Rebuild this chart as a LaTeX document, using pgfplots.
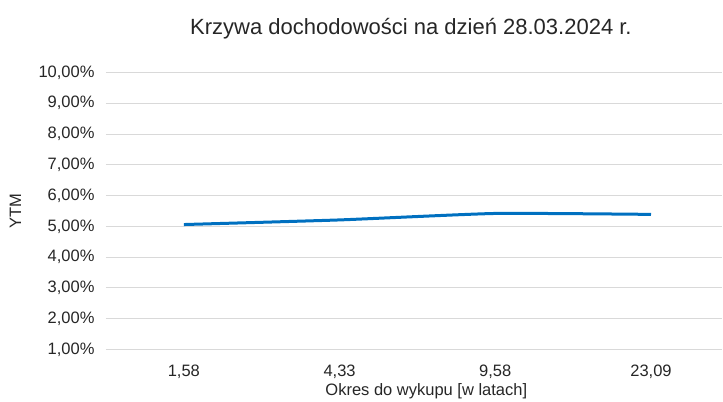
\documentclass[border=0pt]{standalone}
\usepackage{pgfplots}
\pgfplotsset{compat=1.18}
\usepackage{fontspec}
\setmainfont{Liberation Sans}
\definecolor{lineblue}{HTML}{0070C0}
\definecolor{gridgray}{HTML}{D9D9D9}
\definecolor{txt}{HTML}{262626}
\begin{document}
\begin{tikzpicture}
\begin{axis}[
  name=ax,
  scale only axis,
  width=616bp, height=277bp,
  xmin=-0.5, xmax=3.456,
  ymin=1, ymax=10,
  xtick={0,1,2,3},
  xticklabels={{1,58},{4,33},{9,58},{23,09}},
  ytick={1,2,...,10},
  yticklabels={{1,00\%},{2,00\%},{3,00\%},{4,00\%},{5,00\%},{6,00\%},{7,00\%},{8,00\%},{9,00\%},{10,00\%}},
  axis line style={draw=none},
  major tick length=0pt,
  ymajorgrids,
  grid style={gridgray, line width=1bp},
  tick label style={font=\fontsize{16.5bp}{18bp}\selectfont, text=txt},
  yticklabel style={anchor=east, xshift=-8bp},
  xticklabel style={anchor=base, yshift=-27bp},
  xlabel={Okres do wykupu [w latach]},
  ylabel={YTM},
  label style={font=\fontsize{16.5bp}{18bp}\selectfont, text=txt},
  xlabel style={at={(axis description cs:0.52,0)}, anchor=base, yshift=-46bp},
  ylabel style={at={(axis description cs:-0.147,0.5)}, anchor=center, rotate=0},
  title={Krzywa dochodowości na dzień 28.03.2024 r.},
  title style={font=\fontsize{22bp}{24bp}\selectfont, text=txt, at={(axis description cs:0.495,1)}, anchor=base, yshift=32.5bp},
  clip=false,
]
\addplot[lineblue, line width=3bp, smooth, tension=0.3] coordinates {
  (0,5.06) (1,5.21) (2,5.42) (3,5.39)
};
\end{axis}
\pgfresetboundingbox
\path[use as bounding box] ([shift={(-106bp,-52bp)}]ax.south west) rectangle ([shift={(1bp,72.5bp)}]ax.north east);
\end{tikzpicture}
\end{document}
